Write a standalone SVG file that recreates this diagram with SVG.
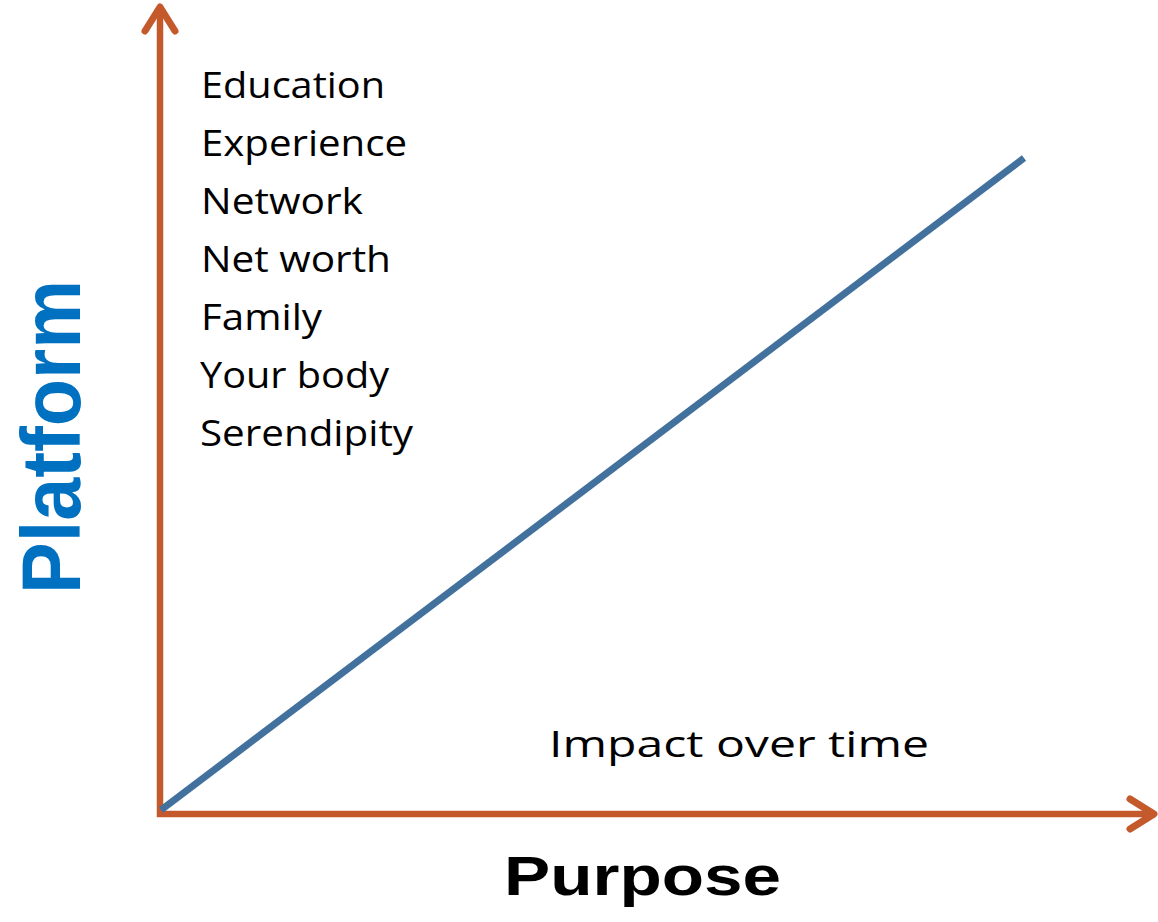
<svg xmlns="http://www.w3.org/2000/svg" width="1158" height="922" viewBox="0 0 1158 922">
<defs>
<style>
.axis{stroke:#C4592C;stroke-width:6.5;fill:none}
.trend{stroke:#41719C;stroke-width:7;fill:none}
.lbl{font-family:"Open Sans","Noto Sans","Liberation Sans",sans-serif;font-size:37px;fill:#000}
.big{font-family:"Liberation Sans",Arial,sans-serif;font-weight:bold}
</style>
<marker id="chev" markerUnits="userSpaceOnUse" markerWidth="60" markerHeight="60" refX="0" refY="0" viewBox="-30 -30 60 60" orient="auto" overflow="visible">
<path d="M -24 -15 L 0 0 L -24 15" fill="none" stroke="#C4592C" stroke-width="7" stroke-linecap="round" stroke-linejoin="round"/>
</marker>
</defs>
<rect width="1158" height="922" fill="#fff"/>
<g id="connectors">
<line class="axis" x1="160" y1="817" x2="160" y2="7" marker-end="url(#chev)"/>
<line class="axis" x1="157" y1="814" x2="1154" y2="814" marker-end="url(#chev)"/>
<line class="trend" x1="161" y1="810" x2="1024" y2="158"/>
</g>
<g id="platform-list">
<text class="lbl" x="201" y="98" textLength="184" lengthAdjust="spacingAndGlyphs">Education</text>
<text class="lbl" x="201" y="156" textLength="206" lengthAdjust="spacingAndGlyphs">Experience</text>
<text class="lbl" x="201" y="214" textLength="162" lengthAdjust="spacingAndGlyphs">Network</text>
<text class="lbl" x="201" y="272" textLength="190" lengthAdjust="spacingAndGlyphs">Net worth</text>
<text class="lbl" x="201" y="330" textLength="121" lengthAdjust="spacingAndGlyphs">Family</text>
<text class="lbl" x="200" y="388" textLength="189" lengthAdjust="spacingAndGlyphs">Your body</text>
<text class="lbl" x="200" y="446" textLength="213" lengthAdjust="spacingAndGlyphs">Serendipity</text>
</g>
<g id="impact-label">
<text class="lbl" x="549" y="757" font-size="41" textLength="380" lengthAdjust="spacingAndGlyphs">Impact over time</text>
</g>
<g id="y-axis-label">
<text class="big" x="0" y="0" font-size="84" fill="#0070C0" transform="translate(80,594) rotate(-90)" textLength="314" lengthAdjust="spacingAndGlyphs">Platform</text>
</g>
<g id="x-axis-label">
<text class="big" x="504" y="895" font-size="56" fill="#000" textLength="277" lengthAdjust="spacingAndGlyphs">Purpose</text>
</g>
</svg>
